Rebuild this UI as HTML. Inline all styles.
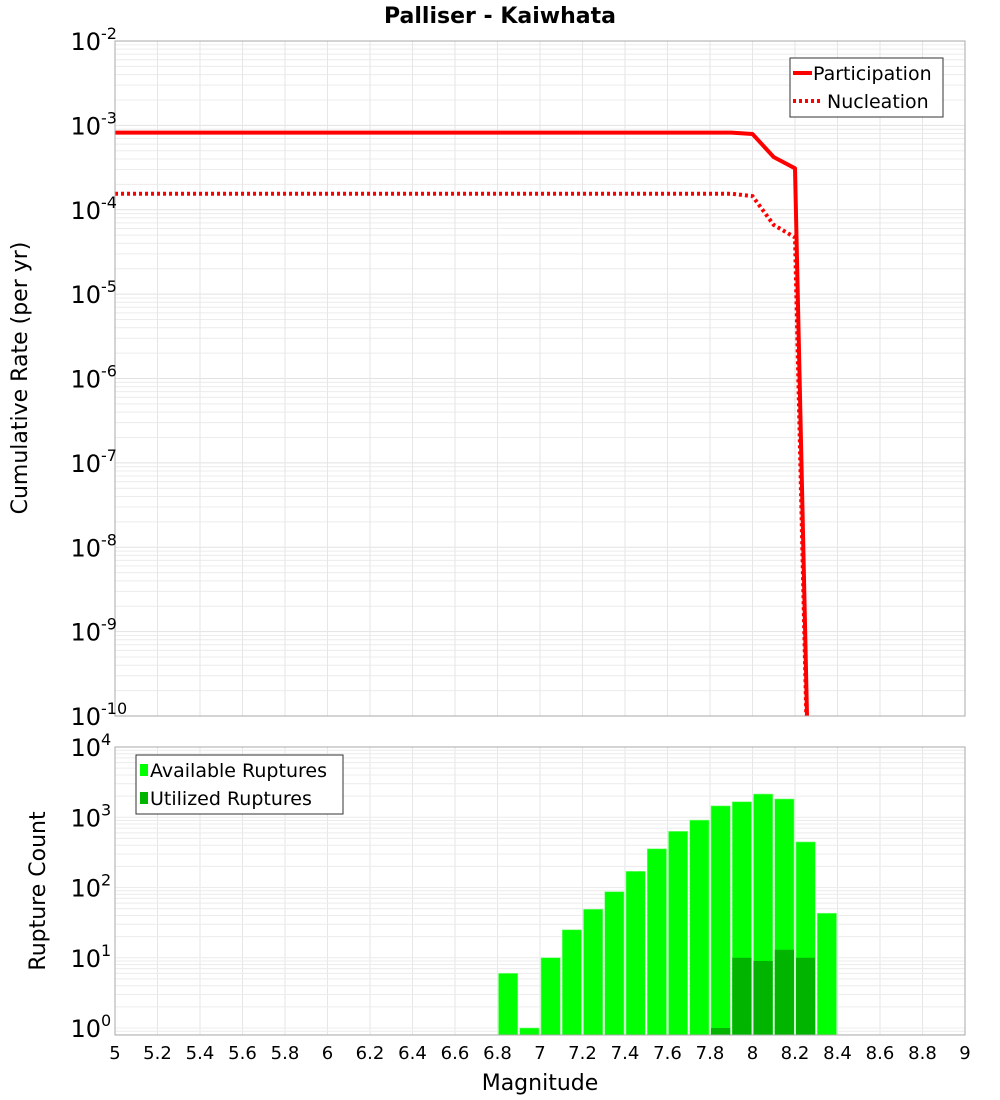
<!DOCTYPE html>
<html><head><meta charset="utf-8"><style>
html,body{margin:0;padding:0;background:#fff;}
svg{display:block;font-family:"DejaVu Sans","Liberation Sans",sans-serif;}
</style></head><body>
<svg id="chart" width="1000" height="1100" viewBox="0 0 1000 1100">
<defs>
<clipPath id="clipTop"><rect x="115" y="41" width="850" height="675"/></clipPath>
<clipPath id="clipBot"><rect x="115" y="747" width="850" height="288"/></clipPath>
</defs>
<text x="500" y="23" text-anchor="middle" font-size="22" font-weight="bold">Palliser - Kaiwhata</text>
<g id="topPlot"></g>
<g id="botPlot"></g>
<text x="27" y="378" text-anchor="middle" font-size="22" transform="rotate(-90 27 378)">Cumulative Rate (per yr)</text>
<text x="45" y="891" text-anchor="middle" font-size="22" transform="rotate(-90 45 891)">Rupture Count</text>
<text x="540" y="1090" text-anchor="middle" font-size="22">Magnitude</text>
</svg>
<script>
const partMags = [5.0, 7.9, 8.0, 8.1, 8.2, 8.3];
const partRates = [8.2e-4, 8.2e-4, 7.9e-4, 4.2e-4, 3.1e-4, 1e-15];
const nuclMags = [5.0, 7.9, 8.0, 8.1, 8.2, 8.3];
const nuclRates = [1.55e-4, 1.55e-4, 1.45e-4, 6.6e-5, 4.7e-5, 1e-15];
const binMags = [6.85,6.95,7.05,7.15,7.25,7.35,7.45,7.55,7.65,7.75,7.85,7.95,8.05,8.15,8.25,8.35];
const availCounts = [6,1,10,25,49,87,170,355,630,910,1450,1660,2140,1820,445,43];
const utilCounts = [0,0,0,0,0,0,0,0,0,0,1,10,9,13,10,0];
const xTicks = [5,5.2,5.4,5.6,5.8,6,6.2,6.4,6.6,6.8,7,7.2,7.4,7.6,7.8,8,8.2,8.4,8.6,8.8,9];
const topExps = [-2,-3,-4,-5,-6,-7,-8,-9,-10];
const botExps = [4,3,2,1,0];

const NS='http://www.w3.org/2000/svg';
function mk(tag,attrs,parent){const e=document.createElementNS(NS,tag);for(const k in attrs)e.setAttribute(k,attrs[k]);parent.appendChild(e);return e;}
const X0=115,X1=965;
function xs(m){return X0+(m-5)/(9-5)*(X1-X0);}
const TT=41,TB=716;
function yTop(v){return TT+(-2-Math.log10(v))*(TB-TT)/8;}
const BT=747,B0=1028;
function yBot(v){return BT+(4-Math.log10(v))*(B0-BT)/4;}

const topG=document.getElementById('topPlot'), botG=document.getElementById('botPlot');

for(let d=-10; d<-2; d++){for(let k=1;k<10;k++){const y=yTop(k*Math.pow(10,d));
 const l=mk('line',{x1:X0,x2:X1,y1:y,y2:y,stroke:k==1?'#e2e2e2':'#ececec','stroke-width':1},topG);
 
 }}
xTicks.forEach(t=>{const x=xs(t);
 const l=mk('line',{x1:x,x2:x,y1:TT,y2:TB,stroke:'#e6e6e6','stroke-width':1},topG);
 
 
 const l2=mk('line',{x1:x,x2:x,y1:BT,y2:1035,stroke:'#e6e6e6','stroke-width':1},botG);
 
 });
for(let d=-1; d<4; d++){for(let k=1;k<10;k++){const y=yBot(k*Math.pow(10,d));if(y>1035)continue;
 const l=mk('line',{x1:X0,x2:X1,y1:y,y2:y,stroke:'#ececec','stroke-width':1},botG);
 
 }}

function linePts(ms,vs){return ms.map((m,i)=>xs(m)+','+yTop(vs[i])).join(' ');}
const gT=mk('g',{'clip-path':'url(#clipTop)'},topG);
const p1=mk('polyline',{points:linePts(partMags,partRates),fill:'none',stroke:'#ff0000','stroke-width':4,'stroke-linejoin':'round'},gT);


const p2=mk('polyline',{points:linePts(nuclMags,nuclRates),fill:'none',stroke:'#ff0000','stroke-width':4,'stroke-dasharray':'3,3'},gT);



const gB=mk('g',{'clip-path':'url(#clipBot)'},botG);
const bw=xs(0.1)-xs(0);
binMags.forEach((m,i)=>{const x=xs(m)-bw/2+1;
 const y=yBot(availCounts[i]);
 const r=mk('rect',{x:x,y:y,width:bw-2,height:1036-y,fill:'#00ff00',stroke:'#7fff7f','stroke-width':0.6},gB);
 
 
 if(utilCounts[i]>0){const yu=yBot(utilCounts[i]);
  const u=mk('rect',{x:x,y:yu,width:bw-2,height:1036-yu,fill:'#00b400'},gB);
  
  }
});

const f1=mk('rect',{x:X0,y:TT,width:X1-X0,height:TB-TT,fill:'none',stroke:'#aaaaaa','stroke-width':1},topG);


const f2=mk('rect',{x:X0,y:BT,width:X1-X0,height:1035-BT,fill:'none',stroke:'#aaaaaa','stroke-width':1},botG);



function powLabel(parent,y,e,name){
 const t=mk('text',{x:101,y:y+9,'text-anchor':'end','font-size':24},parent);t.textContent='10';
 
 
 const s=mk('text',{x:101,y:y-2,'font-size':16},parent);s.textContent=String(e);
 
 }
topExps.forEach(e=>powLabel(topG,yTop(Math.pow(10,e)),e,'y-tick-label-rate'));
botExps.forEach(e=>powLabel(botG,yBot(Math.pow(10,e)),e,'y-tick-label-count'));

xTicks.forEach(t=>{const tx=mk('text',{x:xs(t),y:1059,'text-anchor':'middle','font-size':18},botG);
 tx.textContent=String(t);
 
 });

const lg=mk('g',{},topG);


mk('rect',{x:790,y:58,width:153,height:59,fill:'#fff',stroke:'#333','stroke-width':1},lg);
mk('line',{x1:793,x2:812,y1:73,y2:73,stroke:'#ff0000','stroke-width':4},lg);
const lt1=mk('text',{x:813,y:80,'font-size':19},lg);lt1.textContent='Participation';


mk('line',{x1:793,x2:822,y1:101,y2:101,stroke:'#ff0000','stroke-width':4,'stroke-dasharray':'3,3'},lg);
const lt2=mk('text',{x:827,y:108,'font-size':19},lg);lt2.textContent='Nucleation';



const lb=mk('g',{},botG);


mk('rect',{x:136,y:755,width:207,height:59,fill:'#fff',stroke:'#333','stroke-width':1},lb);
mk('rect',{x:140,y:764,width:8,height:12,fill:'#00ff00'},lb);
const bt1=mk('text',{x:150,y:777,'font-size':19},lb);bt1.textContent='Available Ruptures';


mk('rect',{x:140,y:792,width:8,height:12,fill:'#00b400'},lb);
const bt2=mk('text',{x:150,y:805,'font-size':19},lb);bt2.textContent='Utilized Ruptures';


</script>
</body></html>
